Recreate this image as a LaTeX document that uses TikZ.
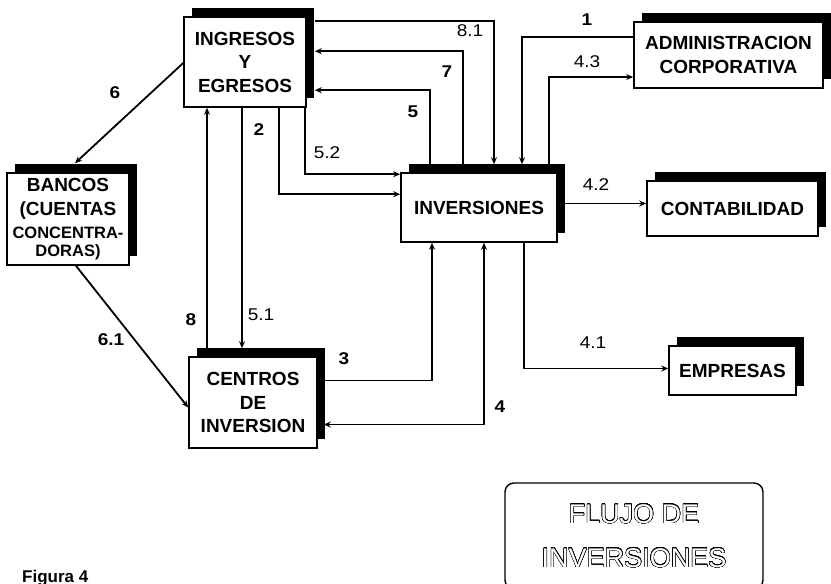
\documentclass[tikz,border=0pt]{standalone}
\usepackage{fontspec}
\setmainfont{Liberation Sans}
\newfontfamily\widefont{Liberation Sans}[FakeStretch=1.12]
\usepackage{contour}
\contourlength{0.35pt}
\contournumber{32}
\usetikzlibrary{arrows.meta,calc,shadows}
\begin{document}
\begin{tikzpicture}[x=1pt,y=-1pt,
  box/.style={draw,line width=1.6pt,fill=white,inner sep=0pt,align=center,
    font=\bfseries\fontsize{19}{23.5}\selectfont,
    general shadow={fill=black,shadow xshift=8pt,shadow yshift=9pt}},
  conn/.style={line width=1.8pt},
  arr/.style={conn,-{Stealth[length=7pt,width=6pt]}},
  darr/.style={conn,{Stealth[length=7pt,width=6pt]}-{Stealth[length=7pt,width=6pt]}},
  num/.style={font=\widefont\bfseries\fontsize{17}{18}\selectfont,inner sep=0pt},
  dec/.style={font=\widefont\fontsize{17}{18}\selectfont,inner sep=0pt}]
\useasboundingbox (0,0) rectangle (831,584);

% boxes
\node[box,minimum width=122pt,minimum height=90pt] (ie) at (245,62) {INGRESOS\\Y\\EGRESOS};
\node[box,minimum width=156pt,minimum height=69pt] (inv) at (479,207.5) {INVERSIONES};
\node[box,minimum width=189pt,minimum height=66pt] (adm) at (728.5,55) {ADMINISTRACION\\CORPORATIVA};
\node[box,minimum width=171pt,minimum height=55pt] (con) at (732.5,208.5) {CONTABILIDAD};
\node[box,minimum width=122pt,minimum height=92pt] (ban) at (68,219)
  {BANCOS\\(CUENTAS\\{\fontsize{16.5}{16}\selectfont CONCENTRA-}\\[-6pt]{\fontsize{16.5}{16}\selectfont DORAS)}};
\node[box,minimum width=128pt,minimum height=91pt] (cen) at (253,402.5) {CENTROS\\DE\\INVERSION};
\node[box,minimum width=127pt,minimum height=49pt] (emp) at (732.5,370.5) {EMPRESAS};

\node[draw,line width=1.4pt,rounded corners=9pt,minimum width=258pt,minimum height=106pt,
  align=center,font=\fontsize{27}{44}\selectfont] (fl) at (634,536)
  {{\color{white}\contour{black}{FLUJO DE}}\\{\color{white}\contour{black}{INVERSIONES}}};

\node[anchor=base west,font=\bfseries\fontsize{17}{20}\selectfont,inner sep=0pt] (fig) at (22,582) {Figura 4};

% connectors
\draw[arr] ($(ie.north east)+(8,5)$) -| ($(inv.north)+(15,-8)$);
\draw[arr] ($(inv.north)+(-16,-8)$) |- ($(ie.north east)+(8,35)$);
\draw[arr] ($(inv.north)+(-49,-8)$) |- ($(ie.north east)+(8,74)$);
\draw[arr] ($(ie.south east)+(-2,0)$) |- ($(inv.north west)+(0,2)$);
\draw[arr] ($(ie.south)+(34,0)$) |- ($(inv.north west)+(0,22)$);
\draw[arr] ($(ie.south)+(-3,0)$) -- ($(cen.north)+(-11,-8)$);
\draw[arr] ($(cen.north)+(-46,-8)$) -- ($(ie.south)+(-38,0)$);
\draw[arr] ($(ie.west)+(0,1)$) -- ($(ban.north)+(7,-9)$);
\draw[arr] ($(ban.south)+(8,0)$) -- ($(cen.west)+(0,5)$);
\draw[arr] ($(adm.west)+(0,-18)$) -| ($(inv.north)+(43,-8)$);
\draw[arr] ($(inv.north)+(70,-8)$) |- ($(adm.west)+(0,22)$);
\draw[arr] ($(inv.east)+(6,-4)$) -- ($(con.west)+(0,-5)$);
\draw[arr] ($(inv.south)+(45,0)$) |- ($(emp.west)+(0,-2)$);
\draw[arr] ($(cen.east)+(6,-22)$) -| ($(inv.south)+(-47,0)$);
\draw[darr] ($(inv.south)+(5,0)$) |- ($(cen.east)+(6,22)$);

% labels
\node[dec] (l81) at (470,31) {8.1};
\node[num] (l7) at (447,72) {7};
\node[num] (l5) at (413,112) {5};
\node[dec] (l52) at (327,153) {5.2};
\node[num] (l2) at (259,130) {2};
\node[num] (l6) at (115,93) {6};
\node[num] (l61) at (111,340) {6.1};
\node[num] (l8) at (191,320) {8};
\node[dec] (l51) at (261,315) {5.1};
\node[num] (l1) at (587,20) {1};
\node[dec] (l43) at (587,62) {4.3};
\node[dec] (l42) at (596,185) {4.2};
\node[dec] (l41) at (593,343) {4.1};
\node[num] (l3) at (344,359) {3};
\node[num] (l4) at (500,407) {4};
\end{tikzpicture}
\end{document}
